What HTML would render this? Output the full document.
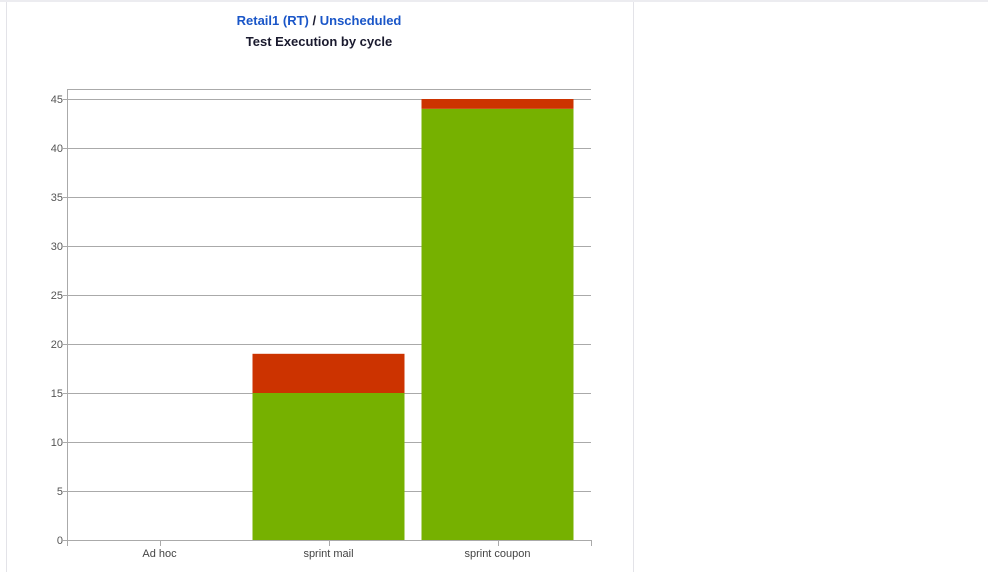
<!DOCTYPE html>
<html><head><meta charset="utf-8"><style>
body{margin:0;width:988px;height:567px;background:#fff;overflow:hidden;font-family:"Liberation Sans",sans-serif;position:relative}
#panel{position:absolute;left:6px;top:2px;width:626px;height:570px;border-left:1px solid #e3e3e8;border-right:1px solid #e3e3e8}
#topbar{position:absolute;left:0;top:0;width:988px;height:2px;background:#ececf0}
#t1{position:absolute;left:0;width:638px;top:13px;text-align:center;font-weight:bold;font-size:13px;color:#1a56c8}
#t2{position:absolute;left:0;width:638px;top:34px;text-align:center;font-weight:bold;font-size:13px;color:#1a1a2e}
</style></head><body>
<div id="topbar"></div>
<div id="panel"></div>
<div id="t1"><span>Retail1 (RT)</span> <span style="color:#1a1a2e">/</span> <span>Unscheduled</span></div>
<div id="t2">Test Execution by cycle</div>
<svg id="chart" width="988" height="567" style="position:absolute;left:0;top:0"></svg>
<script>
const categories=["Ad hoc","sprint mail","sprint coupon"];
const passed=[0,15,44];
const failed=[0,4,1];
const ticks=[0,5,10,15,20,25,30,35,40,45];
const NS="http://www.w3.org/2000/svg";
const svg=document.getElementById('chart');
const L=67,R=591,Y0=540,Y45=99;
const y=v=>Y0-(v/45)*(Y0-Y45);
const band=169,bandStart=75;
const x=i=>bandStart+i*band;
function mk(t,a){const e=document.createElementNS(NS,t);for(const k in a)e.setAttribute(k,a[k]);svg.appendChild(e);return e;}
let e=mk('line',{x1:L,x2:R,y1:89.5,y2:89.5,stroke:'#aaa'});

ticks.forEach(t=>{
 const g=mk('line',{x1:L-4,x2:R,y1:Math.round(y(t))+0.5,y2:Math.round(y(t))+0.5,stroke:'#aaa'});
 
 const tx=mk('text',{x:L-4,y:y(t)+4,'text-anchor':'end','font-size':'11',fill:'#555','font-family':'Liberation Sans, sans-serif'});
 tx.textContent=t;
});
e=mk('line',{x1:L+0.5,x2:L+0.5,y1:89,y2:Y0+6,stroke:'#aaa'});

e=mk('line',{x1:R+0.5,x2:R+0.5,y1:Y0,y2:Y0+6,stroke:'#aaa'});

categories.forEach((c,i)=>{
 const bw=152,cx=x(i)+band/2,bx=cx-bw/2;
 if(passed[i]>0){const b=mk('rect',{x:bx,y:y(passed[i]),width:bw,height:Y0-y(passed[i]),fill:'#76b100'});
 }
 if(failed[i]>0){const b=mk('rect',{x:bx,y:y(passed[i]+failed[i]),width:bw,height:y(passed[i])-y(passed[i]+failed[i]),fill:'#cc3300'});
 }
 const tk=mk('line',{x1:Math.round(cx)+0.5,x2:Math.round(cx)+0.5,y1:Y0,y2:Y0+6,stroke:'#aaa'});
 
 const tx=mk('text',{x:cx,y:Y0+17,'text-anchor':'middle','font-size':'11',fill:'#444','font-family':'Liberation Sans, sans-serif'});
 tx.textContent=c;
});
e=mk('line',{x1:L,x2:R,y1:Y0+0.5,y2:Y0+0.5,stroke:'#aaa'});

</script>
</body></html>
